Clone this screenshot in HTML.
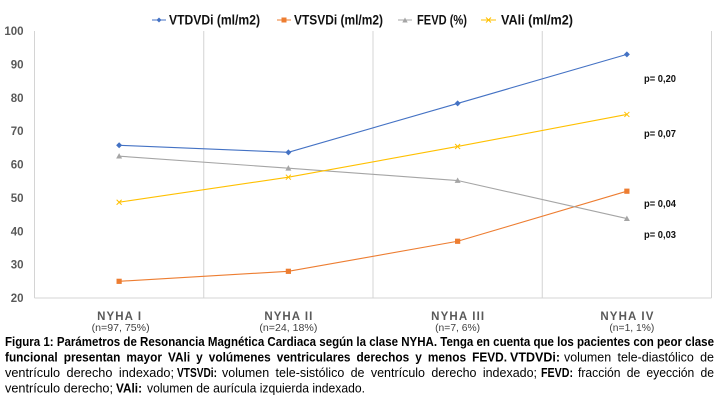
<!DOCTYPE html>
<html lang="es">
<head>
<meta charset="utf-8">
<title>Parámetros de Resonancia Magnética Cardiaca según la clase NYHA</title>
<style>
html,body{margin:0;padding:0;background:#fff;width:720px;height:405px;overflow:hidden}
svg{display:block;font-family:"Liberation Sans",sans-serif;filter:blur(0.3px)}
.leg{font-size:14px;font-weight:bold;fill:#111}
.p{font-size:10px;font-weight:bold;fill:#111}
.cap{font-size:13px;fill:#000}
.b{font-weight:bold}
.ws{word-spacing:3px}
.tick{font-size:11.5px;font-weight:bold;fill:#595959}
.cat{font-size:11.5px;font-weight:bold;fill:#595959}
.sub{font-size:10.5px;fill:#404040}
</style>
</head>
<body>
<svg id="chart" width="720" height="405" viewBox="0 0 720 405" xmlns="http://www.w3.org/2000/svg">
  <g id="grid"></g>
  <g id="yticks"></g>
  <g id="xcats"></g>
  <g id="series"></g>

  <g>
    <g>
      <line x1="152" y1="20" x2="166" y2="20" stroke="#4472c4" stroke-width="1"/>
      <path d="M159 17.5L161.5 20L159 22.5L156.5 20Z" fill="#4472c4"/>
      <text class="leg" x="169" y="24.5" textLength="91" lengthAdjust="spacingAndGlyphs">VTDVDi (ml/m2)</text>
    </g>
    <g>
      <line x1="277" y1="20" x2="291" y2="20" stroke="#ed7d31" stroke-width="1"/>
      <rect x="281.5" y="17.5" width="5" height="5" fill="#ed7d31"/>
      <text class="leg" x="294" y="24.5" textLength="89" lengthAdjust="spacingAndGlyphs">VTSVDi (ml/m2)</text>
    </g>
    <g>
      <line x1="398" y1="20" x2="412" y2="20" stroke="#a5a5a5" stroke-width="1"/>
      <path d="M405 17.5L407.7 22.5L402.3 22.5Z" fill="#a5a5a5"/>
      <text class="leg" x="417" y="24.5" textLength="50" lengthAdjust="spacingAndGlyphs">FEVD (%)</text>
    </g>
    <g>
      <line x1="481" y1="20" x2="496" y2="20" stroke="#ffc000" stroke-width="1"/>
      <path d="M486 17.5L491 22.5M491 17.5L486 22.5" stroke="#ffc000" stroke-width="1" fill="none"/>
      <text class="leg" x="501" y="24.5" textLength="72" lengthAdjust="spacingAndGlyphs">VAli (ml/m2)</text>
    </g>
  </g>

  <g>
    <text class="p" x="644" y="82" textLength="32" lengthAdjust="spacingAndGlyphs">p= 0,20</text>
    <text class="p" x="644" y="137" textLength="32" lengthAdjust="spacingAndGlyphs">p= 0,07</text>
    <text class="p" x="644" y="207" textLength="32" lengthAdjust="spacingAndGlyphs">p= 0,04</text>
    <text class="p" x="644" y="238" textLength="32" lengthAdjust="spacingAndGlyphs">p= 0,03</text>
  </g>

  <g>
    <text class="cap b" x="5" y="346" textLength="709" lengthAdjust="spacingAndGlyphs">Figura 1: Parámetros de Resonancia Magnética Cardiaca según la clase NYHA. Tenga en cuenta que los pacientes con peor clase</text>
    <text class="cap b ws" x="5" y="361.5" textLength="502" lengthAdjust="spacingAndGlyphs">funcional presentan mayor VAli y volúmenes ventriculares derechos y menos FEVD.</text>
    <text class="cap b" x="510" y="361.5" textLength="50" lengthAdjust="spacingAndGlyphs">VTDVDi:</text>
    <text class="cap ws" x="564" y="361.5" textLength="150" lengthAdjust="spacingAndGlyphs">volumen tele-diastólico de</text>
    <text class="cap ws" x="5" y="377" textLength="169" lengthAdjust="spacingAndGlyphs">ventrículo derecho indexado;</text>
    <text class="cap b" x="177" y="377" textLength="40" lengthAdjust="spacingAndGlyphs">VTSVDi:</text>
    <text class="cap ws" x="222" y="377" textLength="315" lengthAdjust="spacingAndGlyphs">volumen tele-sistólico de ventrículo derecho indexado;</text>
    <text class="cap b" x="541" y="377" textLength="32" lengthAdjust="spacingAndGlyphs">FEVD:</text>
    <text class="cap ws" x="578" y="377" textLength="136" lengthAdjust="spacingAndGlyphs">fracción de eyección de</text>
    <text class="cap" x="5" y="392.5" textLength="108" lengthAdjust="spacingAndGlyphs">ventrículo derecho;</text>
    <text class="cap b" x="116" y="392.5" textLength="26" lengthAdjust="spacingAndGlyphs">VAli:</text>
    <text class="cap" x="147" y="392.5" textLength="218" lengthAdjust="spacingAndGlyphs">volumen de aurícula izquierda indexado.</text>
  </g>
</svg>
<script>
var categories = ["NYHA I", "NYHA II", "NYHA III", "NYHA IV"];
var categoryNotes = ["(n=97, 75%)", "(n=24, 18%)", "(n=7, 6%)", "(n=1, 1%)"];
var yTickLabels = [20, 30, 40, 50, 60, 70, 80, 90, 100];
var vtdvdiValues = [65.75, 63.65, 78.3, 93];
var vtsvdiValues = [25, 28, 37, 52];
var fevdValues = [62.5, 58.9, 55.2, 43.8];
var valiValues = [48.7, 56.2, 65.4, 75];

var NS = "http://www.w3.org/2000/svg";
var plotLeft = 34.5, plotRight = 711.5, plotTop = 31, plotBottom = 298;
var yMin = 20, yMax = 100;

function yScale(v) {
  return plotBottom - (v - yMin) / (yMax - yMin) * (plotBottom - plotTop);
}
function xBand(i) {
  return plotLeft + i * (plotRight - plotLeft) / categories.length;
}
function xCenter(i) {
  return xBand(i + 0.5);
}
function make(tag, attrs, parent) {
  var el = document.createElementNS(NS, tag);
  for (var k in attrs) el.setAttribute(k, attrs[k]);
  parent.appendChild(el);
  return el;
}

var grid = document.getElementById("grid");
for (var g = 0; g <= categories.length; g++) {
  var gl = make("line", {x1: xBand(g), x2: xBand(g), y1: plotTop, y2: plotBottom, stroke: "#d4d4d4", "stroke-width": 1}, grid);
  
  
}
var baseLine = make("line", {x1: plotLeft, x2: plotRight, y1: plotBottom, y2: plotBottom, stroke: "#d4d4d4", "stroke-width": 1}, grid);



var yGroup = document.getElementById("yticks");
yTickLabels.forEach(function (t) {
  var el = make("text", {"class": "tick", x: 23.5, y: yScale(t) + 4, "text-anchor": "end"}, yGroup);
  
  
  el.textContent = t;
});

var xGroup = document.getElementById("xcats");
var catWidths = [44, 48, 53, 53];
var noteOffsets = [1.5, 0, 0, 5];
var noteWidths = [58, 58, 45, 45];
categories.forEach(function (c, i) {
  var label = make("text", {"class": "cat", x: xCenter(i), y: 320, "text-anchor": "middle", textLength: catWidths[i], lengthAdjust: "spacing"}, xGroup);
  
  
  label.textContent = c;
  var note = make("text", {"class": "sub", x: xCenter(i) + noteOffsets[i], y: 331, "text-anchor": "middle", textLength: noteWidths[i], lengthAdjust: "spacingAndGlyphs"}, xGroup);
  
  
  note.textContent = categoryNotes[i];
});

function drawMarker(kind, x, y, color, parent) {
  var m;
  if (kind === "diamond") {
    m = make("path", {d: "M" + x + " " + (y - 3) + "L" + (x + 3) + " " + y + "L" + x + " " + (y + 3) + "L" + (x - 3) + " " + y + "Z", fill: color}, parent);
  } else if (kind === "square") {
    m = make("rect", {x: x - 2.6, y: y - 2.6, width: 5.2, height: 5.2, fill: color}, parent);
  } else if (kind === "triangle") {
    m = make("path", {d: "M" + x + " " + (y - 3) + "L" + (x + 3) + " " + (y + 2.4) + "L" + (x - 3) + " " + (y + 2.4) + "Z", fill: color}, parent);
  } else {
    m = make("path", {d: "M" + (x - 2.5) + " " + (y - 2.5) + "L" + (x + 2.5) + " " + (y + 2.5) + "M" + (x + 2.5) + " " + (y - 2.5) + "L" + (x - 2.5) + " " + (y + 2.5), stroke: color, "stroke-width": 1, fill: "none"}, parent);
  }
  
  
}

function drawSeries(values, color, kind, parent) {
  var pts = values.map(function (v, i) { return xCenter(i) + "," + yScale(v); }).join(" ");
  var line = make("polyline", {points: pts, fill: "none", stroke: color, "stroke-width": 1.1}, parent);
  
  
  values.forEach(function (v, i) {
    drawMarker(kind, xCenter(i), yScale(v), color, parent);
  });
}

var seriesGroup = document.getElementById("series");
drawSeries(vtdvdiValues, "#4472c4", "diamond", seriesGroup);
drawSeries(vtsvdiValues, "#ed7d31", "square", seriesGroup);
drawSeries(fevdValues, "#a5a5a5", "triangle", seriesGroup);
drawSeries(valiValues, "#ffc000", "x", seriesGroup);
</script>
</body>
</html>
